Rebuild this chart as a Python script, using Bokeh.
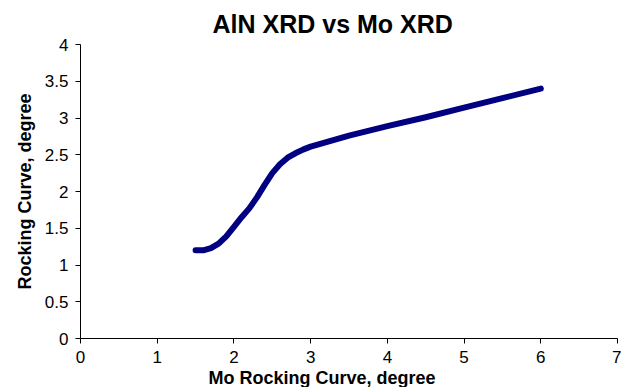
from bokeh.plotting import figure
from bokeh.models import Range1d, FixedTicker, Title
from bokeh.embed import file_html
from bokeh.resources import INLINE

# Data
mo_rc = [1.5, 1.6, 1.7, 1.8, 1.9, 2.0, 2.1, 2.2, 2.3, 2.4, 2.5, 2.6, 2.7, 2.8, 2.9,
         3.0, 3.5, 4.0, 4.5, 5.0, 5.5, 6.0]
aln_rc = [1.20, 1.20, 1.23, 1.29, 1.39, 1.52, 1.65, 1.77, 1.92, 2.09, 2.25, 2.37, 2.46,
          2.52, 2.57, 2.61, 2.76, 2.89, 3.01, 3.14, 3.27, 3.40]

x_ticks = [0, 1, 2, 3, 4, 5, 6, 7]
x_tick_labels = ["0", "1", "2", "3", "4", "5", "6", "7"]
y_ticks = [0, 0.5, 1, 1.5, 2, 2.5, 3, 3.5, 4]
y_tick_labels = ["0", "0.5", "1", "1.5", "2", "2.5", "3", "3.5", "4"]

title_text = "AlN XRD vs Mo XRD"
x_label_text = "Mo Rocking Curve, degree"
y_label_text = "Rocking Curve, degree"

FONT = "Liberation Sans"

p = figure(width=621, height=387, output_backend="svg", toolbar_location=None,
           x_range=Range1d(0, 7), y_range=Range1d(0, 4),
           min_border_left=80, min_border_right=4, min_border_top=44, min_border_bottom=48)
p.outline_line_color = None
p.xgrid.visible = False
p.ygrid.visible = False

p.line(mo_rc, aln_rc, line_width=6, line_color="#000080", line_cap="round", line_join="round")

for ax in (p.xaxis[0], p.yaxis[0]):
    ax.axis_line_color = "#000000"
    ax.axis_line_width = 1
    ax.major_tick_line_color = "#000000"
    ax.major_tick_out = 5
    ax.major_tick_in = 0
    ax.minor_tick_line_color = None
    ax.major_label_text_font = FONT
    ax.major_label_text_font_size = "17px"
    ax.major_label_text_color = "#000000"

p.xaxis.ticker = FixedTicker(ticks=x_ticks)
p.xaxis.major_label_overrides = {t: l for t, l in zip(x_ticks, x_tick_labels)}
p.xaxis.major_label_standoff = 7

p.yaxis.ticker = FixedTicker(ticks=y_ticks)
p.yaxis.major_label_overrides = {t: l for t, l in zip(y_ticks, y_tick_labels)}
p.yaxis.major_label_standoff = 7
p.yaxis.axis_label = y_label_text
p.yaxis.axis_label_text_font = FONT
p.yaxis.axis_label_text_font_size = "18px"
p.yaxis.axis_label_text_font_style = "bold"
p.yaxis.axis_label_text_color = "#000000"
p.yaxis.axis_label_standoff = 7

p.title.text = title_text
p.title.align = "left"
p.title.offset = 132
p.title.text_font = FONT
p.title.text_font_size = "25px"
p.title.text_font_style = "bold"
p.title.text_color = "#000000"
p.title.standoff = 14

p.add_layout(Title(text=x_label_text, align="left", offset=128, text_font=FONT,
                   text_font_size="18px", text_font_style="bold", text_color="#000000",
                   standoff=0), "below")

open("out.html", "w").write(file_html(p, INLINE))
